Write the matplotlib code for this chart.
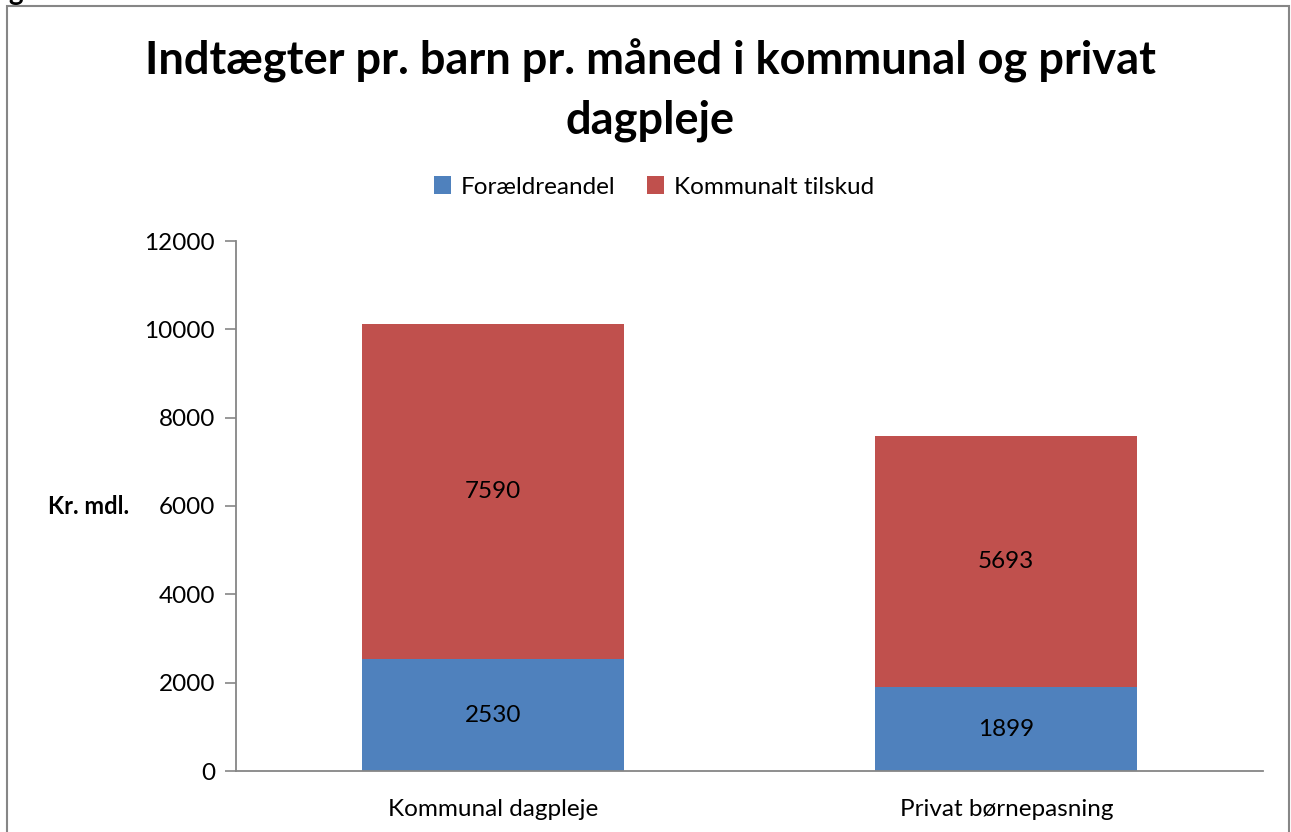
import matplotlib
matplotlib.use("Agg")
import numpy as np
from matplotlib import pyplot as plt
from matplotlib.patches import Rectangle

# data
categories = ["Kommunal dagpleje", "Privat børnepasning"]
foraeldreandel = [2530, 1899]
kommunalt_tilskud = [7590, 5693]
series_names = ["Forældreandel", "Kommunalt tilskud"]
yticks = [0, 2000, 4000, 6000, 8000, 10000, 12000]

BLUE = "#4F81BD"
RED = "#C0504D"
GRAY = "#868686"

plt.rcParams['font.family'] = ['Lato', 'DejaVu Sans']

W, H = 1291, 832
fig = plt.figure(figsize=(W / 100, H / 100), dpi=100)

# plot area in pixel coords
left, right, top, bottom = 236, 1263, 241, 771
ax = fig.add_axes([left / W, 1 - bottom / H, (right - left) / W, (bottom - top) / H])

x = np.arange(len(categories))
w = 0.51
b1 = ax.bar(x, foraeldreandel, w, color=BLUE, label=series_names[0])
b2 = ax.bar(x, kommunalt_tilskud, w, bottom=foraeldreandel, color=RED, label=series_names[1])

for i in range(len(categories)):
    ax.text(x[i], foraeldreandel[i] / 2, str(foraeldreandel[i]), ha='center', va='center', fontsize=17.5)
    ax.text(x[i], foraeldreandel[i] + kommunalt_tilskud[i] / 2, str(kommunalt_tilskud[i]),
            ha='center', va='center', fontsize=17.5)

ax.set_xlim(-0.5, len(categories) - 0.5)
ax.set_ylim(0, 12000)
ax.set_yticks(yticks)
ax.set_xticks(x)
ax.set_xticklabels(categories)
ax.tick_params(axis='y', length=8, width=1.2, color=GRAY, labelsize=17.5, pad=7)
ax.tick_params(axis='x', length=0, labelsize=17.5, pad=20)
for s in ['top', 'right']:
    ax.spines[s].set_visible(False)
for s in ['left', 'bottom']:
    ax.spines[s].set_color(GRAY)
    ax.spines[s].set_linewidth(1.3)

fig.text(89 / W, 1 - 506 / H, "Kr. mdl.", ha='center', va='center', fontsize=17, fontweight='bold')

fig.text(650 / W, 1 - 61 / H, "Indtægter pr. barn pr. måned i kommunal og privat",
         ha='center', va='center', fontsize=32.5, fontweight='bold')
fig.text(650 / W, 1 - 121 / H, "dagpleje", ha='center', va='center', fontsize=32.5, fontweight='bold')

fig.legend(handles=[b1, b2], labels=series_names, loc='center', bbox_to_anchor=(654 / W, 1 - 187 / H),
           ncol=2, frameon=False, fontsize=17.5, handlelength=0.7, handleheight=0.7,
           handletextpad=0.4, columnspacing=1.3)

# outer chart border (bottom cut off in the reference)
fig.patches.append(Rectangle((7 / W, -0.05), (1289 - 7) / W, 1.05 - 6 / H, transform=fig.transFigure,
                             fill=False, edgecolor=GRAY, linewidth=1.5))
fig.text(8 / W, 1 + 8 / H, "g", ha='left', va='center', fontsize=20, fontweight='bold')

fig.savefig("out.png", dpi=100)
